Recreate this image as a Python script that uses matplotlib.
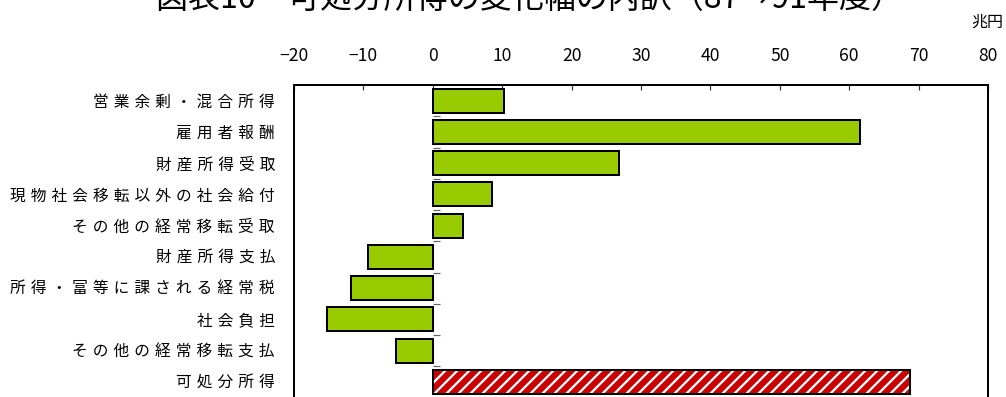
import matplotlib
matplotlib.use("Agg")
import matplotlib.pyplot as plt
import numpy as np

plt.rcParams['font.family'] = ['Noto Sans CJK JP', 'DejaVu Sans']
plt.rcParams['hatch.linewidth'] = 2.3

# 可処分所得の変化幅の内訳（兆円）
categories = [
    "営業余剰・混合所得",
    "雇用者報酬",
    "財産所得受取",
    "現物社会移転以外の社会給付",
    "その他の経常移転受取",
    "財産所得支払",
    "所得・富等に課される経常税",
    "社会負担",
    "その他の経常移転支払",
    "可処分所得",
]
values = [10.3, 61.6, 26.8, 8.5, 4.4, -9.4, -11.8, -15.3, -5.3, 68.7]
xticks = [-20, -10, 0, 10, 20, 30, 40, 50, 60, 70, 80]

title = "図表10　可処分所得の変化幅の内訳（87→91年度）"
unit = "兆円"

W, H, DPI = 1006, 397, 72
fig = plt.figure(figsize=(W / DPI, H / DPI), dpi=DPI)
ax = fig.add_axes([294 / W, -0.5 / H, 694 / W, 312.5 / H])

n = len(categories)
ypos = np.arange(n)
green = "#99CC00"
red = "#CC0000"

# components
comp = ypos[:-1]
ax.barh(comp, values[:-1], height=0.77, color=green, edgecolor="black",
        linewidth=2, zorder=3)
# total: red with white diagonal stripes, black outline
ax.barh(ypos[-1], values[-1], height=0.77, color=red, edgecolor="white",
        hatch="//", linewidth=0, zorder=3)
ax.barh(ypos[-1], values[-1], height=0.77, fill=False, edgecolor="black",
        linewidth=2, zorder=4)

# category-axis tick marks at x = 0
for b in np.arange(n - 1) + 0.5:
    ax.plot([0, 1.0], [b, b], color="#666666", lw=1.2, zorder=2,
            solid_capstyle="butt")

ax.set_xlim(xticks[0], xticks[-1])
ax.set_ylim(n - 0.5, -0.5)

ax.set_xticks(xticks)
ax.set_xticklabels([str(t).replace("-", "\u2212") for t in xticks])
ax.xaxis.set_ticks_position("top")
ax.tick_params(axis="x", direction="in", length=5, width=1.2, color="#333333",
               pad=20, labelsize=17.5, top=True, bottom=False,
               labeltop=True, labelbottom=False)

ax.set_yticks(ypos)
ax.set_yticklabels([" ".join(c) for c in categories], fontsize=15.7,
                   family=['DejaVu Sans', 'Noto Sans CJK JP'])
ax.tick_params(axis="y", length=0, pad=19)

for s in ax.spines.values():
    s.set_linewidth(2)
    s.set_color("black")

fig.text(529 / W, 1 - 8 / H, title, ha="center", va="baseline", fontsize=32)
fig.text(1003 / W, 1 - 22 / H, unit, ha="right", va="center", fontsize=16)

fig.savefig("out.png", dpi=DPI, facecolor="white")
